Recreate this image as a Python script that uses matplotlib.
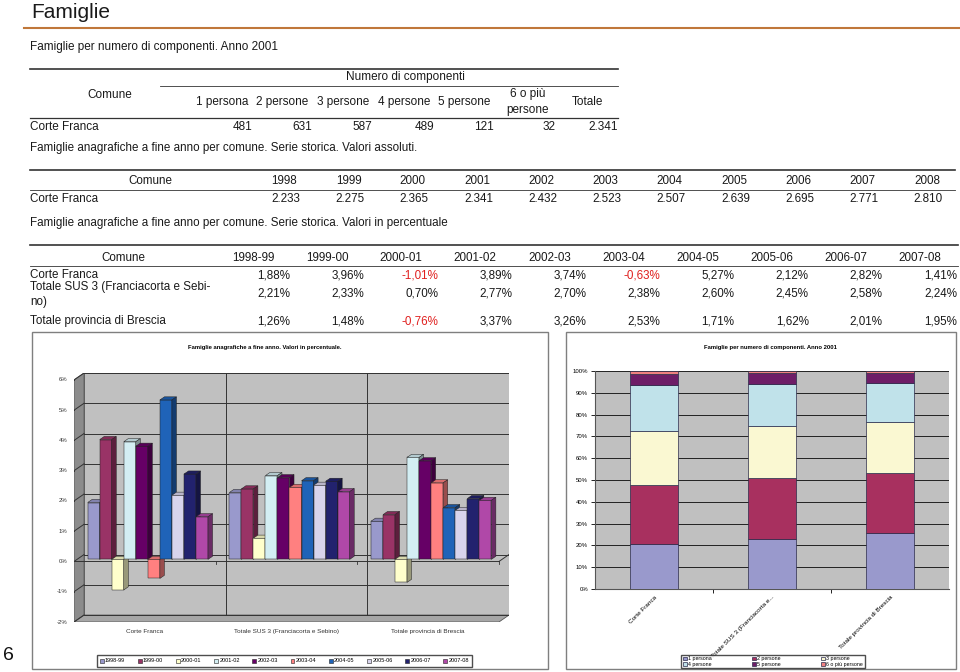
import matplotlib
matplotlib.use('Agg')
import matplotlib.pyplot as plt
from matplotlib.patches import Rectangle, Polygon, Patch
from matplotlib.lines import Line2D

# ---- data ----
comp_labels = ['1 persona', '2 persone', '3 persone', '4 persone', '5 persone', '6 o più persone']
comp_corte = [481, 631, 587, 489, 121, 32]
comp_totale = '2.341'

years = ['1998', '1999', '2000', '2001', '2002', '2003', '2004', '2005', '2006', '2007', '2008']
fam_corte = ['2.233', '2.275', '2.365', '2.341', '2.432', '2.523', '2.507', '2.639', '2.695', '2.771', '2.810']

periods = ['1998-99', '1999-00', '2000-01', '2001-02', '2002-03', '2003-04',
           '2004-05', '2005-06', '2006-07', '2007-08']
comuni = ['Corte Franca', 'Totale SUS 3 (Franciacorta e Sebino)', 'Totale provincia di Brescia']
var_corte = [1.88, 3.96, -1.01, 3.89, 3.74, -0.63, 5.27, 2.12, 2.82, 1.41]
var_sus = [2.21, 2.33, 0.70, 2.77, 2.70, 2.38, 2.60, 2.45, 2.58, 2.24]
var_prov = [1.26, 1.48, -0.76, 3.37, 3.26, 2.53, 1.71, 1.62, 2.01, 1.95]

# 2001 composition shares (%)
share_cats = ['Corte Franca', 'Totale SUS 3 (Franciacorta e...', 'Totale provincia di Brescia']
share_sus = [23.1, 27.6, 24.3, 19.0, 5.2, 0.8]
share_prov = [25.7, 27.4, 23.5, 17.7, 4.9, 0.8]

bar_colors = ['#9999CC', '#993366', '#FFFFCC', '#D3EEF3', '#660066', '#FF8080',
              '#1F63B8', '#D8D4EC', '#22226E', '#B048A8']
stack_colors = ['#9999CC', '#A8305F', '#FAF8D2', '#C0E2EA', '#6E1D67', '#F08080']

W, H = 960, 672
fig = plt.figure(figsize=(9.6, 6.72), dpi=100)


def fx(x):
    return x / W


def fy(y):
    return 1 - y / H


def txt(x, y, s, ha='left', size=8.5, fam='Liberation Sans', color='#1a1a1a', **kw):
    fig.text(fx(x), fy(y), s, ha=ha, va='center', fontsize=size, family=fam, color=color, **kw)


def hline(x0, x1, y, lw=0.8, color='#333333'):
    fig.add_artist(Line2D([fx(x0), fx(x1)], [fy(y), fy(y)], transform=fig.transFigure,
                          lw=lw, color=color))


NS = 8.4  # size used in the two lower tables

# ---- heading ----
txt(31, 12, 'Famiglie', size=15)
hline(24, 960, 28, lw=1.5, color='#C0773A')

# ---- table 1 ----
txt(30, 47, 'Famiglie per numero di componenti. Anno 2001')
hline(30, 618, 69, lw=1.2)
txt(405, 77, 'Numero di componenti', ha='center')
hline(160, 618, 86, lw=0.6)
txt(110, 95, 'Comune', ha='center')
head_x = [222, 282, 343, 404, 464]
for x, lab in zip(head_x, comp_labels[:5]):
    txt(x, 102, lab, ha='center')
txt(528, 94, '6 o più', ha='center')
txt(528, 110, 'persone', ha='center')
txt(587, 102, 'Totale', ha='center')
hline(30, 618, 118, lw=0.9)
txt(30, 127, 'Corte Franca')
val_x = [252, 312, 372, 434, 494, 556]
for x, v in zip(val_x, comp_corte):
    txt(x, 127, str(v), ha='right')
txt(618, 127, comp_totale, ha='right')

# ---- table 2 ----
txt(30, 148, 'Famiglie anagrafiche a fine anno per comune. Serie storica. Valori assoluti.', size=NS)
hline(30, 955, 170, lw=1.2)
txt(150, 181, 'Comune', ha='center', size=NS)
for i, (yr, v) in enumerate(zip(years, fam_corte)):
    txt(297 + 64.3 * i, 181, yr, ha='right', size=NS)
    txt(300 + 64.3 * i, 199, v, ha='right', size=NS)
hline(30, 955, 190, lw=0.6)
txt(30, 199, 'Corte Franca', size=NS)

# ---- table 3 ----
txt(30, 223, 'Famiglie anagrafiche a fine anno per comune. Serie storica. Valori in percentuale', size=NS)
hline(30, 958, 245, lw=1.2)
txt(123, 258, 'Comune', ha='center', size=NS)
hline(30, 958, 266, lw=0.6)
row_y = [275, 294, 321]
txt(30, 275, comuni[0], size=NS)
txt(30, 287, 'Totale SUS 3 (Franciacorta e Sebi-', size=NS)
txt(30, 302, 'no)', size=NS)
txt(30, 321, comuni[2], size=NS)
for i, p in enumerate(periods):
    txt(253 + 74.1 * i, 258, p, ha='center', size=NS)
    for y, series in zip(row_y, [var_corte, var_sus, var_prov]):
        v = series[i]
        s = f'{v:.2f}%'.replace('.', ',')
        txt(290 + 74.1 * i, y, s, ha='right', size=NS,
            color='#E0201F' if v < 0 else '#1a1a1a')

# ---- chart frames ----
for x0, x1 in [(32, 548), (566, 956)]:
    fig.add_artist(Rectangle((fx(x0), fy(669)), fx(x1) - fx(x0), fy(332) - fy(669),
                             transform=fig.transFigure, fill=False, ec='#7f7f7f', lw=1))

# ---- left chart: pseudo-3D clustered bars ----
ax1 = fig.add_axes([fx(74), fy(622), (509 - 74) / W, (622 - 373) / H])
ax1.axis('off')
dxw, dyw = 0.071, 0.23          # wall depth
ymin, ymax = -2, 6
ax1.set_xlim(-0.5, 2.5 + dxw)
ax1.set_ylim(ymin, ymax + dyw)

# walls and floor
ax1.add_patch(Polygon([(-0.5 + dxw, ymin + dyw), (2.5 + dxw, ymin + dyw),
                       (2.5 + dxw, ymax + dyw), (-0.5 + dxw, ymax + dyw)],
                      fc='#C0C0C0', ec='#555555', lw=0.6, zorder=0))
ax1.add_patch(Polygon([(-0.5, ymin), (-0.5 + dxw, ymin + dyw),
                       (-0.5 + dxw, ymax + dyw), (-0.5, ymax)],
                      fc='#8C8C8C', ec='#555555', lw=0.6, zorder=0))
ax1.add_patch(Polygon([(-0.5, ymin), (2.5, ymin), (2.5 + dxw, ymin + dyw), (-0.5 + dxw, ymin + dyw)],
                      fc='#A6A6A6', ec='#555555', lw=0.6, zorder=0))
for v in range(ymin, ymax + 1):
    ax1.plot([-0.5 + dxw, 2.5 + dxw], [v + dyw, v + dyw], color='#333333', lw=0.7, zorder=1)
    ax1.plot([-0.5, -0.5 + dxw], [v, v + dyw], color='#333333', lw=0.7, zorder=1)
    ax1.plot([-0.55, -0.5], [v, v], color='#333333', lw=0.7, zorder=1)
    ax1.text(-0.545, v, f'{v}%', ha='right', va='center', fontsize=4.3,
             family='Liberation Sans', color='#333333')
for xb in [0.5, 1.5]:
    ax1.plot([xb + dxw, xb + dxw], [ymin + dyw, ymax + dyw], color='#333333', lw=0.7, zorder=1)
# category axis at zero
ax1.plot([-0.5, 2.5], [0, 0], color='#333333', lw=0.7, zorder=1)
ax1.plot([2.5, 2.5 + dxw], [0, dyw], color='#333333', lw=0.7, zorder=1)
for xb in [0.5, 1.5, 2.5]:
    ax1.plot([xb, xb], [0, -0.08], color='#333333', lw=0.6, zorder=1)


def shade(c, f):
    r, g, b = matplotlib.colors.to_rgb(c)
    return (r * f, g * f, b * f)


gw = 0.85
bw = gw / len(periods)
ox, oy = 0.3 * dxw, 0.3 * dyw
bdx, bdy = 0.45 * dxw, 0.45 * dyw
z = 2
for i, series in enumerate([var_corte, var_sus, var_prov]):
    for j, v in enumerate(series):
        x0 = i - gw / 2 + j * bw + ox
        lo, hi = min(0, v) + oy, max(0, v) + oy
        c = bar_colors[j]
        ax1.add_patch(Rectangle((x0, lo), bw, hi - lo, fc=c, ec='#222222', lw=0.35, zorder=z))
        ax1.add_patch(Polygon([(x0, hi), (x0 + bw, hi), (x0 + bw + bdx, hi + bdy), (x0 + bdx, hi + bdy)],
                              fc=shade(c, 0.85), ec='#222222', lw=0.35, zorder=z))
        ax1.add_patch(Polygon([(x0 + bw, lo), (x0 + bw, hi), (x0 + bw + bdx, hi + bdy), (x0 + bw + bdx, lo + bdy)],
                              fc=shade(c, 0.6), ec='#222222', lw=0.35, zorder=z))
        z += 1

for i, name in enumerate(comuni):
    ax1.text(i, ymin - 0.33, name, ha='center', va='center', fontsize=4.6,
             family='Liberation Sans', color='#333333', clip_on=False)

fig.text(fx(265), fy(347), 'Famiglie anagrafiche a fine anno. Valori in percentuale.',
         ha='center', va='center', fontsize=4.2, fontweight='bold', family='Liberation Sans')

handles1 = [Patch(fc=c, ec='#222222', lw=0.4) for c in bar_colors]
fig.legend(handles1, periods, loc='center', bbox_to_anchor=(fx(284.5), fy(661)), ncol=10,
           prop={'family': 'Liberation Sans', 'size': 4},
           handlelength=0.7, handleheight=0.7, handletextpad=0.2, columnspacing=2.3,
           frameon=True, fancybox=False, edgecolor='#222222', borderpad=0.55)

# ---- right chart: 100% stacked bars ----
ax2 = fig.add_axes([fx(595), fy(589), (949 - 595) / W, (589 - 371) / H])
ax2.set_facecolor('#C0C0C0')
corte_share = [100 * v / sum(comp_corte) for v in comp_corte]
shares = [corte_share, share_sus, share_prov]
bottoms = [0, 0, 0]
for k in range(len(comp_labels)):
    vals = [s[k] / 100 for s in shares]
    ax2.bar(range(3), vals, width=0.4, bottom=bottoms, color=stack_colors[k],
            edgecolor='#2a2a4a', lw=0.5, zorder=3, label=comp_labels[k])
    bottoms = [b + v for b, v in zip(bottoms, vals)]
ax2.set_xlim(-0.5, 2.5)
ax2.set_ylim(0, 1)
ax2.set_yticks([i / 10 for i in range(11)])
ax2.set_yticklabels([f'{i * 10}%' for i in range(11)], fontsize=4.3, family='Liberation Sans')
ax2.yaxis.grid(True, color='#222222', lw=0.7, zorder=1)
ax2.set_axisbelow(True)
ax2.set_xticks(range(3))
ax2.set_xticklabels(share_cats, rotation=45, ha='right', rotation_mode='anchor',
                    fontsize=4.6, family='Liberation Sans')
ax2.set_xticks([0.5, 1.5], minor=True)
ax2.tick_params(axis='x', which='major', length=0, pad=4)
ax2.tick_params(axis='x', which='minor', length=3, width=0.6)
ax2.tick_params(axis='y', length=3, width=0.6, pad=2)
for s in ['top', 'right']:
    ax2.spines[s].set_visible(False)
for s in ['left', 'bottom']:
    ax2.spines[s].set_color('#555555')
    ax2.spines[s].set_linewidth(0.8)

fig.text(fx(770), fy(347), 'Famiglie per numero di componenti. Anno 2001',
         ha='center', va='center', fontsize=4.2, fontweight='bold', family='Liberation Sans')

h2, l2 = ax2.get_legend_handles_labels()
# reorder so rows read 1,2,3 / 4,5,6
order = [0, 3, 1, 4, 2, 5]
fig.legend([h2[i] for i in order], [l2[i] for i in order], loc='center',
           bbox_to_anchor=(fx(773), fy(661.5)), ncol=3,
           prop={'family': 'Liberation Sans', 'size': 3.8},
           handlelength=0.7, handleheight=0.7, handletextpad=0.3, columnspacing=7.6,
           labelspacing=0.1, frameon=True, fancybox=False, edgecolor='#222222', borderpad=0.3)

# page number
txt(8, 656, '6', ha='center', size=14, color='#111111')

fig.savefig('out.png', dpi=100)
